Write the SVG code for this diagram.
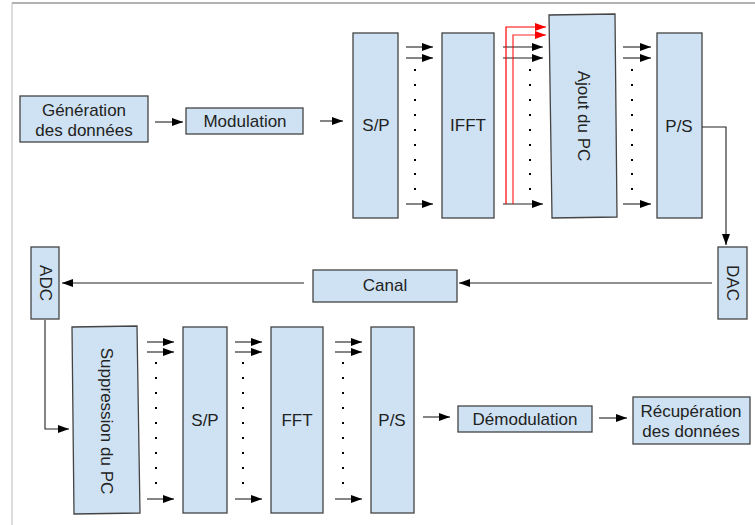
<svg xmlns="http://www.w3.org/2000/svg" width="755" height="525" viewBox="0 0 755 525">
<defs>
<marker id="ah" markerUnits="userSpaceOnUse" markerWidth="11" markerHeight="8" refX="11" refY="4" orient="auto"><path d="M0,0 L11,4 L0,8 z" fill="#000"/></marker>
<marker id="ahr" markerUnits="userSpaceOnUse" markerWidth="11" markerHeight="8" refX="11" refY="4" orient="auto"><path d="M0,0 L11,4 L0,8 z" fill="#f00"/></marker>
</defs>
<style>
.box{fill:#cfe2f3;stroke:#444;stroke-width:1.3}
.t{font-family:"Liberation Sans",Arial,sans-serif;font-size:17px;fill:#222;text-anchor:middle;dominant-baseline:central}
.c{fill:none;stroke:#222;stroke-width:1.1;marker-end:url(#ah)}
.r{fill:none;stroke:#f00;stroke-width:1.2;marker-end:url(#ahr)}
.dot{fill:#000}
</style>
<rect width="755" height="525" fill="#fff"/>
<line x1="12" y1="3" x2="755" y2="3" stroke="#999" stroke-width="1.5"/>
<line x1="12" y1="3" x2="12" y2="525" stroke="#bbb" stroke-width="1"/>

<g id="gen"><rect class="box" x="20" y="96" width="128" height="46"/><text class="t" x="84" y="110">Génération</text><text class="t" x="84" y="130">des données</text></g>
<g id="mod"><rect class="box" x="186" y="108" width="117" height="26"/><text class="t" x="245" y="121">Modulation</text></g>
<g id="sp1"><rect class="box" x="353" y="33" width="45" height="185"/><text class="t" x="376" y="125">S/P</text></g>
<g id="ifft"><rect class="box" x="442" y="33" width="52" height="185"/><text class="t" x="468" y="125">IFFT</text></g>
<g id="ajout"><polygon class="box" points="549,15 615,14 617,217 552,218"/><text class="t" transform="translate(583,116) rotate(90)">Ajout du PC</text></g>
<g id="ps1"><rect class="box" x="657" y="33" width="45" height="185"/><text class="t" x="679" y="126">P/S</text></g>
<g id="dac"><rect class="box" x="718" y="247" width="29" height="72"/><text class="t" transform="translate(732.5,283) rotate(90)">DAC</text></g>
<g id="canal"><rect class="box" x="313" y="270" width="144" height="32"/><text class="t" x="385" y="285">Canal</text></g>
<g id="adc"><rect class="box" x="31" y="247" width="28" height="72"/><text class="t" transform="translate(45,283) rotate(90)">ADC</text></g>
<g id="supp"><polygon class="box" points="72,327 137,326 140,513 74,514"/><text class="t" transform="translate(106,421) rotate(90)">Suppression du PC</text></g>
<g id="sp2"><rect class="box" x="183" y="327" width="44" height="186"/><text class="t" x="205" y="420">S/P</text></g>
<g id="fft"><rect class="box" x="271" y="327" width="52" height="186"/><text class="t" x="297" y="420">FFT</text></g>
<g id="ps2"><rect class="box" x="371" y="327" width="43" height="186"/><text class="t" x="392" y="420">P/S</text></g>
<g id="demod"><rect class="box" x="458" y="406" width="134" height="26"/><text class="t" x="525" y="419">Démodulation</text></g>
<g id="recup"><rect class="box" x="633" y="397" width="117" height="47"/><text class="t" x="691" y="411">Récupération</text><text class="t" x="691" y="431">des données</text></g>

<g id="connectors">
<line class="c" x1="155" y1="122" x2="183" y2="122"/>
<line class="c" x1="320" y1="121" x2="343" y2="121"/>
<line class="c" x1="406" y1="47" x2="433" y2="47"/>
<line class="c" x1="406" y1="58" x2="433" y2="58"/>
<line class="c" x1="406" y1="204" x2="433" y2="204"/>
<line class="c" x1="503" y1="47" x2="543" y2="47"/>
<line class="c" x1="503" y1="58" x2="543" y2="58"/>
<line class="c" x1="503" y1="204" x2="543" y2="204"/>
<polyline class="r" points="506,204 506,27 546,27"/>
<polyline class="r" points="513,204 513,35 546,35" stroke="#f66" stroke-opacity="0.85"/>
<line class="c" x1="623" y1="47" x2="651" y2="47"/>
<line class="c" x1="623" y1="58" x2="651" y2="58"/>
<line class="c" x1="623" y1="204" x2="651" y2="204"/>
<polyline class="c" points="702,127 726,127 726,245"/>
<line class="c" x1="712" y1="283" x2="459" y2="283"/>
<line class="c" x1="304" y1="283" x2="62" y2="283"/>
<polyline class="c" points="45,320 45,429 69,429"/>
<line class="c" x1="147" y1="342" x2="174" y2="342"/>
<line class="c" x1="147" y1="352" x2="174" y2="352"/>
<line class="c" x1="147" y1="499" x2="174" y2="499"/>
<line class="c" x1="235" y1="342" x2="262" y2="342"/>
<line class="c" x1="235" y1="352" x2="262" y2="352"/>
<line class="c" x1="235" y1="499" x2="262" y2="499"/>
<line class="c" x1="335" y1="342" x2="362" y2="342"/>
<line class="c" x1="335" y1="352" x2="362" y2="352"/>
<line class="c" x1="335" y1="499" x2="362" y2="499"/>
<line class="c" x1="423" y1="417" x2="450" y2="417"/>
<line class="c" x1="599" y1="418" x2="627" y2="418"/>
</g>

<g id="dots" class="dot">
<g id="d1"><rect x="414" y="69" width="2" height="2"/><rect x="414" y="84" width="2" height="2"/><rect x="414" y="99" width="2" height="2"/><rect x="414" y="114" width="2" height="2"/><rect x="414" y="129" width="2" height="2"/><rect x="414" y="144" width="2" height="2"/><rect x="414" y="159" width="2" height="2"/><rect x="414" y="173" width="2" height="2"/><rect x="414" y="188" width="2" height="2"/></g>
<use href="#d1" x="115"/>
<use href="#d1" x="217"/>
<g id="d2"><rect x="155" y="362" width="2" height="2"/><rect x="155" y="377" width="2" height="2"/><rect x="155" y="392" width="2" height="2"/><rect x="155" y="407" width="2" height="2"/><rect x="155" y="422" width="2" height="2"/><rect x="155" y="437" width="2" height="2"/><rect x="155" y="452" width="2" height="2"/><rect x="155" y="467" width="2" height="2"/><rect x="155" y="482" width="2" height="2"/></g>
<use href="#d2" x="87"/>
<use href="#d2" x="187"/>
</g>
</svg>
